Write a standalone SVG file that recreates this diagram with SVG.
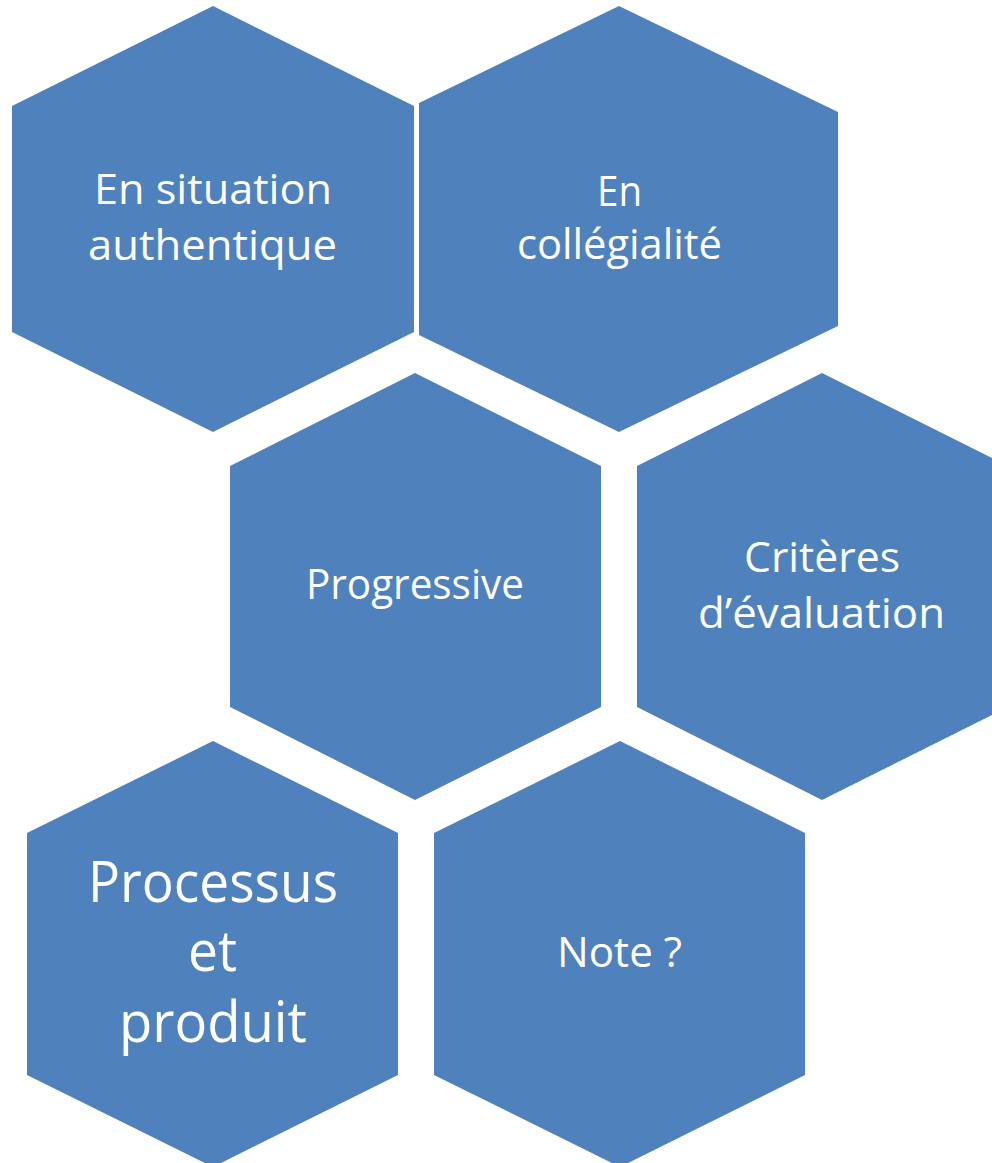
<svg xmlns="http://www.w3.org/2000/svg" width="992" height="1163" viewBox="0 0 992 1163">
<style>
.hex{fill:#4F81BD;}
.t{fill:#FFFFFF;font-family:"Open Sans","Noto Sans","Liberation Sans",sans-serif;text-anchor:middle;font-size:42px;}
.big{font-size:56px;}
</style>
<rect width="992" height="1163" fill="#FFFFFF"/>
<g id="connectors"></g>
<g id="node-situation">
<polygon class="hex" points="213,6 414,106 414,332 213,432 12,332 12,106"/>
<text class="t" x="213" y="204" textLength="238" lengthAdjust="spacingAndGlyphs">En situation</text>
<text class="t" x="212.5" y="260" textLength="249" lengthAdjust="spacingAndGlyphs">authentique</text>
</g>
<g id="node-collegialite">
<polygon class="hex" points="619,6 838,112 838,326 619,432 419,335 419,103"/>
<text class="t" x="619.5" y="206" textLength="45" lengthAdjust="spacingAndGlyphs">En</text>
<text class="t" x="619.5" y="259" textLength="205" lengthAdjust="spacingAndGlyphs">collégialité</text>
</g>
<g id="node-progressive">
<polygon class="hex" points="415,373 601,466 601,707 415,800 230,707 230,466"/>
<text class="t" x="415" y="599" textLength="218" lengthAdjust="spacingAndGlyphs">Progressive</text>
</g>
<g id="node-criteres">
<polygon class="hex" points="822,373 1008,466 1008,707 822,800 637,707 637,466"/>
<text class="t" x="822" y="572" textLength="156" lengthAdjust="spacingAndGlyphs">Critères</text>
<text class="t" x="821.5" y="628" textLength="247" lengthAdjust="spacingAndGlyphs">d’évaluation</text>
</g>
<g id="node-processus">
<polygon class="hex" points="213,741 398,833 398,1075 213,1167 27,1075 27,833"/>
<text class="t big" x="213" y="902" textLength="250" lengthAdjust="spacingAndGlyphs">Processus</text>
<text class="t big" x="212.5" y="971" textLength="49" lengthAdjust="spacingAndGlyphs">et</text>
<text class="t big" x="213" y="1042" textLength="188" lengthAdjust="spacingAndGlyphs">produit</text>
</g>
<g id="node-note">
<polygon class="hex" points="620,741 805,833 805,1075 620,1167 434,1075 434,833"/>
<text class="t" x="619.5" y="967" textLength="125" lengthAdjust="spacingAndGlyphs">Note ?</text>
</g>
</svg>
